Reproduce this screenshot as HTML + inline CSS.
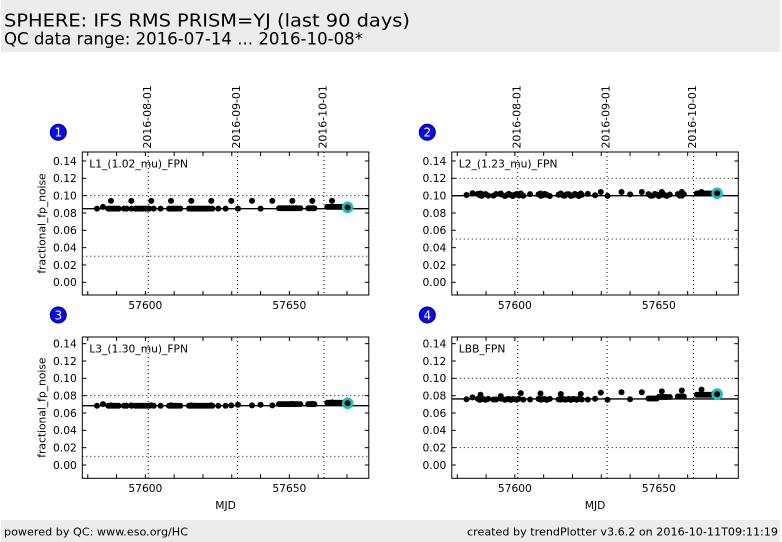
<!DOCTYPE html>
<html><head><meta charset="utf-8"><style>
html,body{margin:0;padding:0;background:#fff;}
svg{display:block;font-family:"DejaVu Sans","Liberation Sans",sans-serif;}
</style></head><body>
<svg id="s" width="782" height="542" viewBox="0 0 782 542" xmlns="http://www.w3.org/2000/svg">
<rect x="1" y="0" width="779" height="52" fill="#ececec"/>
<text x="4" y="26.5" font-size="18" textLength="406" lengthAdjust="spacingAndGlyphs" fill="#000">SPHERE: IFS RMS PRISM=YJ (last 90 days)</text>
<text x="4" y="44.5" font-size="17" textLength="359" lengthAdjust="spacingAndGlyphs" fill="#000">QC data range: 2016-07-14 ... 2016-10-08*</text>
<rect x="1" y="520" width="779" height="22" fill="#ececec"/>
<text x="4" y="535.5" font-size="11" textLength="184" lengthAdjust="spacingAndGlyphs">powered by QC: www.eso.org/HC</text>
<text x="778" y="535.5" font-size="11" text-anchor="end" textLength="311" lengthAdjust="spacingAndGlyphs">created by trendPlotter v3.6.2 on 2016-10-11T09:11:19</text>
<g id="plots"></g>
</svg>
<script>
(function(){
var NS="http://www.w3.org/2000/svg";
var g=document.getElementById("plots");
function el(tag,attrs,text){var e=document.createElementNS(NS,tag);for(var k in attrs)e.setAttribute(k,attrs[k]);if(text!==undefined)e.textContent=text;g.appendChild(e);return e;}
var PX=2.88, MJD0=57578.1, W=286.5, S=866.6;
var lower=[14.7,26,28,30,32,34,36.5,41.7,44.3,49.3,53,55,57,59,61,63,65,67,71.5,78.3,86.7,89,91,93,95,98,106.7,109,111,113,115,117,119,121,123,125,127,130,136,143.3,155.7,178.3,196.7,199,201,203,205,207,209,211,213,215,218,226,228,230,232,245,247,249,251,253,255,257,259,261];
var upper=[28.7,49,69,88.7,109,129,149,169.7,190,210,230,249.7];
var panels=[
 {L:82.3,T:152,B:295,y0:282.3,name:"L1_(1.02_mu)_FPN",num:"1",bx:58.3,by:132.3,solid:0.085,dots:[0.10,0.03],dates:true,ylab:true,
  lo:function(x,i){ if(x>240) return 0.087; if(x>190) return 0.0855; return 0.085;},
  up:function(x){return 0.094;}, second:0.087, cyan:0.0865},
 {L:451.8,T:152,B:295,y0:282.3,name:"L2_(1.23_mu)_FPN",num:"2",bx:427.3,by:132.3,solid:0.10,dots:[0.12,0.05],dates:true,ylab:false,
  lo:function(x,i){ if(x>240) return 0.1025; return 0.1008+0.0012*Math.sin(i*1.7);},
  up:function(x){return x>140?0.1042:0.1025;}, second:0.1028, cyan:0.1027},
 {L:82.3,T:337,B:478.3,y0:465,name:"L3_(1.30_mu)_FPN",num:"3",bx:58.3,by:315,solid:0.0685,dots:[0.08,0.01],dates:false,ylab:true,
  lo:function(x,i){ if(x>240) return 0.0718; if(x>190) return 0.0702; if(x>150) return 0.0695; return 0.0683;},
  up:function(x){ if(x>240) return 0.0722; if(x>190) return 0.0705; return 0.0688;}, second:0.0702, cyan:0.0712},
 {L:451.8,T:337,B:478.3,y0:465,name:"LBB_FPN",num:"4",bx:427.3,by:315,solid:0.0762,dots:[0.10,0.02],dates:false,ylab:false,
  lo:function(x,i){ if(x>240) return 0.081; if(x>220) return 0.079; if(x>205) return 0.0785; if(x>190) return 0.0768; return 0.0758+0.0006*Math.sin(i*2.3);},
  up:function(x){ var m={28.7:0.081,49:0.0795,69:0.083,88.7:0.0825,109:0.082,129:0.082,149:0.0835,169.7:0.084,190:0.084,210:0.085,230:0.086,249.7:0.087}; return m[x];}, second:0.078, cyan:0.0818}
];
panels.forEach(function(p){
  var L=p.L,R=p.L+W,T=p.T,B=p.B;
  function X(m){return L+(m-MJD0)*PX;}
  function Y(v){return p.y0-v*S;}
  el("circle",{cx:p.bx,cy:p.by,r:8,fill:"#0a0af0",stroke:"#00005a","stroke-width":1});
  el("text",{x:p.bx,y:p.by+4.3,"font-size":12,fill:"#fff","text-anchor":"middle"},p.num);
  p.dots.forEach(function(v){el("line",{x1:L,x2:R,y1:Y(v),y2:Y(v),stroke:"#000","stroke-width":1,"stroke-dasharray":"1,3"});});
  [57601,57632,57662].forEach(function(m){el("line",{x1:X(m),x2:X(m),y1:T,y2:B,stroke:"#000","stroke-width":1,"stroke-dasharray":"1,3"});});
  el("line",{x1:L,x2:R,y1:Y(p.solid),y2:Y(p.solid),stroke:"#000","stroke-width":1.4});
  el("rect",{x:L,y:T,width:W,height:B-T,fill:"none",stroke:"#000","stroke-width":1});
  for(var k=0;k<=7;k++){var v=k*0.02,y=Y(v);
    el("line",{x1:L,x2:L+4,y1:y,y2:y,stroke:"#000","stroke-width":1});
    el("line",{x1:R-4,x2:R,y1:y,y2:y,stroke:"#000","stroke-width":1});
    el("text",{x:L-5.5,y:y+3.9,"font-size":10.7,"text-anchor":"end"},v.toFixed(2));}
  for(var m=57580;m<=57670;m+=10){var x=X(m);
    el("line",{x1:x,x2:x,y1:B,y2:B-4,stroke:"#000","stroke-width":1});
    el("line",{x1:x,x2:x,y1:T,y2:T+4,stroke:"#000","stroke-width":1});}
  [57600,57650].forEach(function(m){el("text",{x:X(m),y:B+13.8,"font-size":10.7,"text-anchor":"middle"},String(m));});
  if(!p.dates){el("text",{x:L+W/2,y:509,"font-size":10.7,"text-anchor":"middle"},"MJD");}
  if(p.dates){
    [[57601,"2016-08-01"],[57632,"2016-09-01"],[57662,"2016-10-01"]].forEach(function(d){
      var x=X(d[0])+2.5,y=T-3.5;
      el("text",{x:x,y:y,"font-size":10.9,transform:"rotate(-90 "+x+" "+y+")"},d[1]);});
  }
  if(p.ylab){var cy=(T+B)/2;el("text",{x:45.5,y:cy,"font-size":10.7,"text-anchor":"middle",transform:"rotate(-90 45.5 "+cy+")"},"fractional_fp_noise");}
  el("text",{x:L+7,y:T+15.3,"font-size":10.7},p.name);
  lower.forEach(function(x,i){el("circle",{cx:L+x,cy:Y(p.lo(x,i)),r:3,fill:"#000"});});
  el("circle",{cx:L+20.7,cy:Y(p.second),r:3,fill:"#000"});
  upper.forEach(function(x){el("circle",{cx:L+x,cy:Y(p.up(x)),r:3,fill:"#000"});});
  el("circle",{cx:L+265.3,cy:Y(p.cyan),r:5.8,fill:"#22bcbc"});
  el("circle",{cx:L+265.3,cy:Y(p.cyan),r:3,fill:"#000"});
});
})();
</script>
</body></html>
